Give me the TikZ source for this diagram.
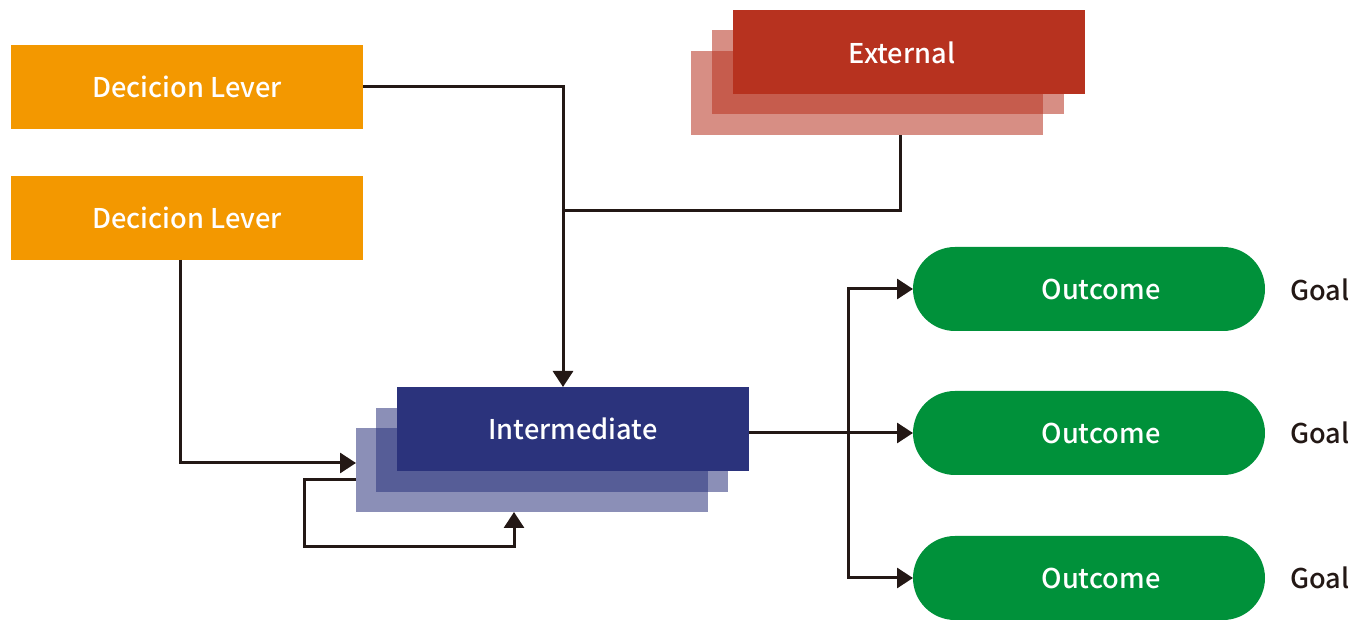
\documentclass[tikz,border=0pt]{standalone}
\usepackage{fontspec}
\setmainfont{Noto Sans CJK JP}[UprightFont=* Medium]
\usetikzlibrary{arrows.meta}
\definecolor{leverc}{HTML}{F39800}
\definecolor{extc}{HTML}{B7321F}
\definecolor{interc}{HTML}{2B337C}
\definecolor{outc}{HTML}{00913A}
\definecolor{ink}{HTML}{231815}
\begin{document}
\begin{tikzpicture}[x=0.5pt,y=-0.5pt,
  box/.style={minimum width=176pt,minimum height=42pt,inner sep=0pt,outer sep=0pt,
    text=white,font=\fontsize{13.6}{16}\selectfont},
  lever/.style={box,fill=leverc},
  extfront/.style={box,fill=extc},
  extback/.style={box,fill=extc,fill opacity=0.55},
  intfront/.style={box,fill=interc},
  intback/.style={box,fill=interc,fill opacity=0.55},
  outcome/.style={box,fill=outc,rounded corners=21pt},
  goal/.style={text=ink,font=\fontsize{13.6}{16}\selectfont,inner sep=0pt,anchor=west},
  conn/.style={draw=ink,line width=1.5pt},
  arr/.style={conn,-{Triangle[length=8pt,width=10pt]}}]
\useasboundingbox (0,0) rectangle (1357,620);

% decision levers
\node[lever] (dl1) at (187,87) {Decicion Lever};
\node[lever] (dl2) at (187,218) {Decicion Lever};

% external stack
\node[extback] (ext3) at (867,93.5) {};
\node[extback] (ext2) at (888,72.5) {};
\node[extfront] (ext) at (909,52.5) {External\hspace*{7pt}};

% intermediate stack
\node[intback] (int3) at (532,470) {};
\node[intback] (int2) at (552,450) {};
\node[intfront] (int) at (573,429) {Intermediate};

% outcomes
\node[outcome] (o1) at (1089,289) {\hspace*{12pt}Outcome};
\node[outcome] (o2) at (1089,433) {\hspace*{12pt}Outcome};
\node[outcome] (o3) at (1089,578) {\hspace*{12pt}Outcome};

\node[goal] (g1) at (1290,290) {Goal};
\node[goal] (g2) at (1290,433) {Goal};
\node[goal] (g3) at (1290,578) {Goal};

% connectors
\coordinate (j) at (563,211);
\coordinate (jx) at (900,211);
\draw[arr] (dl1.east) -| (j) -- (j |- int.north);
\draw[conn] (jx |- ext3.south) -- (jx) -- (j);
\draw[arr] ([xshift=-3.5pt]dl2.south) |- ([yshift=3.5pt]int3.west);
\coordinate (lp) at (304,547);
\draw[arr] ([yshift=-5pt]int3.west) -| (lp) -| ([xshift=-9pt]int3.south);
\coordinate (b) at (848,433);
\draw[arr] (int.east |- o2.west) -- (o2.west);
\draw[arr] (b) |- (o1.west);
\draw[arr] (b) |- (o3.west);
\end{tikzpicture}
\end{document}
